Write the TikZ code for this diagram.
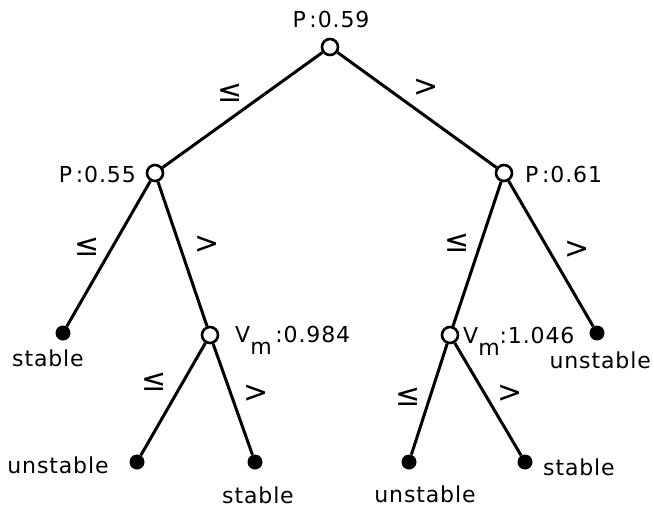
\documentclass[tikz,border=0pt]{standalone}
\usepackage{fontspec}
\setmainfont{DejaVu Sans}[LetterSpace=4]
\usetikzlibrary{positioning}

\begin{document}
\begin{tikzpicture}[
        x=1pt, y=-1pt,
        test/.style={draw, circle, line width=2.6pt, fill=white, minimum size=16pt, inner sep=0pt},
        leaf/.style={circle, fill=black, minimum size=15pt, inner sep=0pt},
        branch/.style={line width=3pt},
        txt/.style={font=\fontsize{22}{24}\selectfont, inner sep=0pt},
        cmp/.style={font=\fontsize{30}{32}\selectfont, inner sep=0pt}
    ]
        \useasboundingbox (0,0) rectangle (654,507);

        % Decision nodes
        \node[test] (p059) at (330, 47) {};
        \node[test] (p055) at (155, 173) {};
        \node[test] (p061) at (504, 173) {};
        \node[test] (v0984) at (210, 335) {};
        \node[test] (v1046) at (450, 335) {};

        % Leaves
        \node[leaf] (s1) at (63, 333) {};
        \node[leaf] (u1) at (597, 333) {};
        \node[leaf] (u2) at (137, 462) {};
        \node[leaf] (s2) at (255, 462) {};
        \node[leaf] (u3) at (409, 462) {};
        \node[leaf] (s3) at (525, 462) {};

        % Branches
        \draw[branch] (p059) -- (p055);
        \draw[branch] (p059) -- (p061);
        \draw[branch] (p055) -- (s1);
        \draw[branch] (p055) -- (v0984);
        \draw[branch] (p061) -- (v1046);
        \draw[branch] (p061) -- (u1);
        \draw[branch] (v0984) -- (u2);
        \draw[branch] (v0984) -- (s2);
        \draw[branch] (v1046) -- (u3);
        \draw[branch] (v1046) -- (s3);

        % Test labels
        \node[txt, anchor=base] (tp059) at (331, 27) {P\,:0.59};
        \node[txt, anchor=base east] (tp055) at (136, 182) {P\,:0.55};
        \node[txt, anchor=base west] (tp061) at (525, 182) {P\,:0.61};
        \node[txt, anchor=base west] (tv0984) at (235, 342) {V\raisebox{-0.55em}{m}\,:0.984};
        \node[txt, anchor=base west] (tv1046) at (463, 343) {V\raisebox{-0.55em}{m}:1.046};

        % Leaf labels
        \node[txt, anchor=base] (ts1) at (48, 366) {stable};
        \node[txt, anchor=base east] (tu1) at (651, 368) {unstable};
        \node[txt, anchor=base] (tu2) at (58, 473) {unstable};
        \node[txt, anchor=base] (ts2) at (258, 503) {stable};
        \node[txt, anchor=base] (tu3) at (425, 502) {unstable};
        \node[txt, anchor=base west] (ts3) at (543, 475) {stable};

        % Branch conditions
        \node[cmp] (le1) at (230, 93) {≤};
        \node[cmp] (gt1) at (426, 88) {>};
        \node[cmp] (le2) at (87, 247) {≤};
        \node[cmp] (gt2) at (207, 245) {>};
        \node[cmp] (le3) at (457, 243) {≤};
        \node[cmp] (gt3) at (577, 250) {>};
        \node[cmp] (le4) at (154, 382) {≤};
        \node[cmp] (gt4) at (256, 394) {>};
        \node[cmp] (le5) at (408, 397) {≤};
        \node[cmp] (gt5) at (510, 394) {>};
    \end{tikzpicture}
\end{document}
